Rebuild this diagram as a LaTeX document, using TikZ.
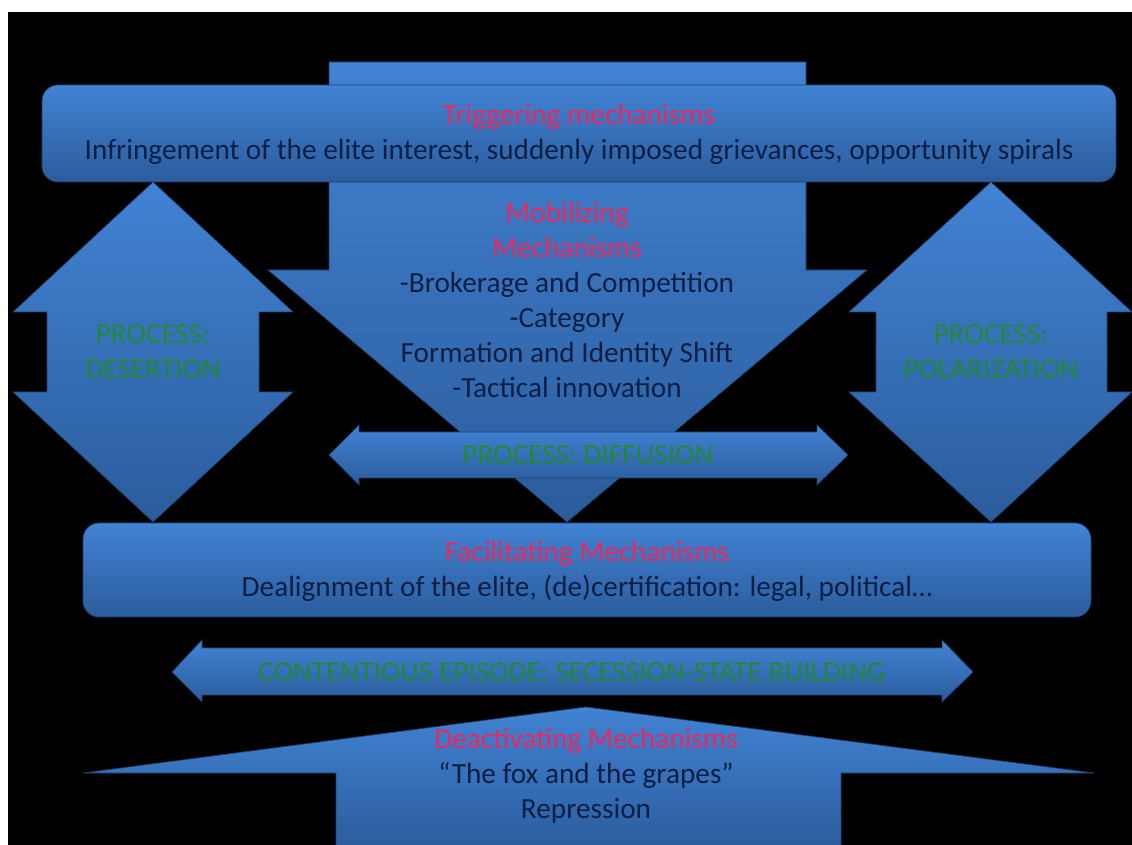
\documentclass[tikz,border=0pt]{standalone}
\usepackage{fontspec}
\setmainfont{Carlito}
\definecolor{boxtop}{HTML}{4283D4}
\definecolor{boxbot}{HTML}{2B5C9C}
\definecolor{mechred}{HTML}{E8285E}
\definecolor{procgreen}{HTML}{23883A}
\definecolor{bodytext}{HTML}{0E1F46}

\tikzset{
  blockshape/.style={top color=boxtop, bottom color=boxbot, draw=boxbot!70!black, line width=0.5pt},
  slidetext/.style={align=center, text=bodytext, font=\fontsize{20.8}{24.9}\selectfont, inner sep=0pt},
  proctext/.style={slidetext, text=procgreen},
}
\newcommand{\mech}[1]{\textcolor{mechred}{#1}}

\begin{document}
\begin{tikzpicture}[x=0.025cm,y=-0.025cm]
    \useasboundingbox (0,0) rectangle (1132,845);
    \fill[white] (0,0) rectangle (1132,845);
    \fill[black] (8,12) rectangle (1132,845);
    % mobilizing arrow
    \shade[blockshape] (329,62) -- (806,62) -- (806,270) -- (867,270) -- (567,522)
      -- (268,270) -- (329,270) -- cycle;
    % triggering box
    \shade[blockshape, rounded corners=0.4cm] (42,85) rectangle (1116,182);
    % desertion and polarization
    \shade[blockshape] (153,182) -- (293,312) -- (259,312) -- (259,392) -- (293,392)
      -- (153,522) -- (13,392) -- (47,392) -- (47,312) -- (13,312) -- cycle;
    \shade[blockshape] (991,182) -- (1132,312) -- (1107,312) -- (1107,392) -- (1132,392)
      -- (991,522) -- (849,392) -- (876,392) -- (876,312) -- (849,312) -- cycle;
    % diffusion
    \shade[blockshape] (329,455) -- (359,425) -- (359,432) -- (817,432) -- (817,425)
      -- (848,455) -- (817,485) -- (817,478) -- (359,478) -- (359,485) -- cycle;
    % facilitating box
    \shade[blockshape, rounded corners=0.4cm] (83,523) rectangle (1091,617);
    % contentious episode
    \shade[blockshape] (172,672) -- (202,640) -- (202,648) -- (942,648) -- (942,640)
      -- (973,672) -- (942,702) -- (942,695) -- (202,695) -- (202,702) -- cycle;
    % deactivating arrow
    \shade[blockshape] (586,707) -- (1094,773) -- (841,773) -- (841,850) -- (336,850)
      -- (336,773) -- (83,773) -- cycle;

    \node[slidetext] (trig) at (579,134) {\mech{Triggering mechanisms}\\
      Infringement of the elite interest, suddenly imposed grievances, opportunity spirals};
    \node[slidetext] (mobil) at (567,300) {\mech{Mobilizing}\\ \mech{Mechanisms}\\
      -Brokerage and Competition\\ -Category\\ Formation and Identity Shift\\ -Tactical innovation};
    \node[proctext] (desert) at (153,352) {PROCESS:\\ DESERTION};
    \node[proctext] (polar) at (991,352) {PROCESS:\\ POLARIZATION};
    \node[proctext] (diffus) at (588,455) {PROCESS: DIFFUSION};
    \node[slidetext] (facil) at (587,571) {\mech{Facilitating Mechanisms}\\
      Dealignment of the elite, (de)certification: legal, political\dots};
    \node[proctext] (episode) at (572,672) {CONTENTIOUS EPISODE: SECESSION-STATE BUILDING};
    \node[slidetext] (deact) at (586,776) {\mech{Deactivating Mechanisms}\\
      ``The fox and the grapes''\\ Repression};
  \end{tikzpicture}
\end{document}
